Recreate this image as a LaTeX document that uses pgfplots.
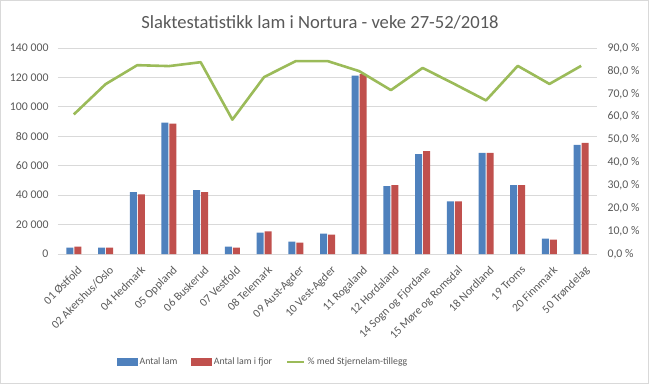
\documentclass[border=0pt]{standalone}
\usepackage{fontspec}
\setmainfont{Carlito}
\usepackage{pgfplots}
\usepackage{pgfplotstable}
\pgfplotsset{compat=1.18}
\definecolor{cblue}{RGB}{79,129,189}
\definecolor{cred}{RGB}{192,80,77}
\definecolor{cgreen}{RGB}{155,187,89}
\definecolor{ctext}{RGB}{89,89,89}
\definecolor{cgrid}{RGB}{217,217,217}

\pgfplotstableread{
x blue red pct
0 4300 5000 61.0
1 4300 4300 74.2
2 42000 40600 82.5
3 89300 88600 82.1
4 43400 42000 83.8
5 5000 4300 58.7
6 14600 15300 77.3
7 8400 7800 84.3
8 13900 13200 84.3
9 121200 122300 79.9
10 46100 46800 71.6
11 67800 69900 81.3
12 35800 35800 74.3
13 68700 68700 67.1
14 46800 46800 82.2
15 10500 9800 74.3
16 74200 75600 82.2
}\data

\begin{document}
\begin{tikzpicture}
\begin{axis}[
  name=main,
  scale only axis, width=539bp, height=206bp,
  xmin=-0.5, xmax=16.5, ymin=0, ymax=140000,
  ytick={0,20000,40000,60000,80000,100000,120000,140000},
  yticklabels={0,20 000,40 000,60 000,80 000,100 000,120 000,140 000},
  ybar=1bp, bar width=7bp,
  xtick=data,
  xticklabels={01 Østfold,02 Akershus/Oslo,04 Hedmark,05 Oppland,06 Buskerud,07 Vestfold,08 Telemark,09 Aust-Agder,10 Vest-Agder,11 Rogaland,12 Hordaland,14 Sogn og Fjordane,15 Møre og Romsdal,18 Nordland,19 Troms,20 Finnmark,50 Trøndelag},
  xticklabel style={xshift=3bp, yshift=-11bp, rotate=45, anchor=north east, font=\fontsize{11.6bp}{14bp}\selectfont, text=ctext, inner sep=0pt},
  yticklabel style={xshift=-6bp, font=\fontsize{11.8bp}{14bp}\selectfont, text=ctext},
  scaled y ticks=false,
  axis x line*=bottom, axis y line*=left,
  y axis line style={draw=none},
  x axis line style={draw=cgrid, line width=0.8bp},
  major tick length=0pt,
  ymajorgrids, grid style={draw=cgrid, line width=0.8bp},
  clip=false,
]
\addplot[fill=cblue, draw=none] table[x=x, y=blue] {\data};
\addplot[fill=cred, draw=none] table[x=x, y=red] {\data};
\node[text=ctext, font=\fontsize{18.6bp}{21bp}\selectfont] at (rel axis cs:0.486,1.122) {Slaktestatistikk lam i Nortura - veke 27-52/2018};
\end{axis}
\begin{axis}[
  scale only axis, width=539bp, height=206bp,
  xmin=-0.5, xmax=16.5, ymin=0, ymax=90,
  ytick={0,10,20,30,40,50,60,70,80,90},
  yticklabels={{0,0 \%},{10,0 \%},{20,0 \%},{30,0 \%},{40,0 \%},{50,0 \%},{60,0 \%},{70,0 \%},{80,0 \%},{90,0 \%}},
  axis x line=none, axis y line*=right,
  y axis line style={draw=none},
  major tick length=0pt,
  yticklabel style={xshift=7bp, font=\fontsize{11.8bp}{14bp}\selectfont, text=ctext},
  legend columns=3,
  legend style={draw=none, fill=none, at={(0.104,-0.524)}, anchor=west, font=\fontsize{9.8bp}{12bp}\selectfont, text=ctext,
    /tikz/every even column/.append style={column sep=12bp}},
]
\addlegendimage{legend image code/.code={\fill[cblue] (0bp,-3.5bp) rectangle (20bp,3.5bp);}}
\addlegendentry{Antal lam}
\addlegendimage{legend image code/.code={\fill[cred] (0bp,-3.5bp) rectangle (20bp,3.5bp);}}
\addlegendentry{Antal lam i fjor}
\addplot[cgreen, line width=2.6bp, line join=round] table[x=x, y=pct] {\data};
\addlegendentry{\% med Stjernelam-tillegg}
\end{axis}
\draw[cgrid, line width=0.8bp] ([shift={(-57.6bp,-129.6bp)}]main.south west) rectangle ([shift={(51.6bp,47.6bp)}]main.north east);
\end{tikzpicture}
\end{document}
